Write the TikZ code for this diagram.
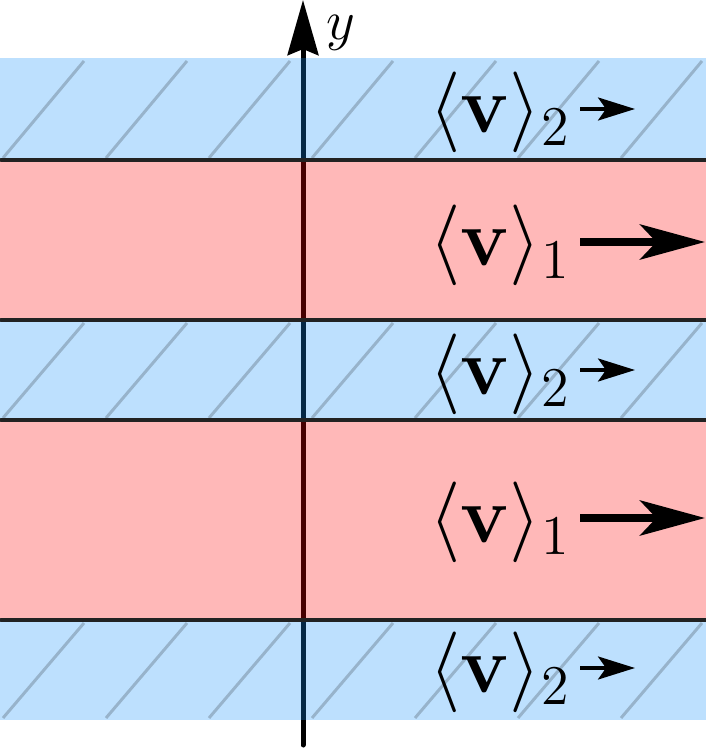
\documentclass[tikz,border=0pt]{standalone}
\usetikzlibrary{arrows.meta}
\definecolor{bandblue}{RGB}{19,144,251}
\definecolor{bandred}{RGB}{255,0,0}
\definecolor{sepcol}{RGB}{34,34,34}
\begin{document}
\begin{tikzpicture}[x=0.214pt,y=-0.214pt,
  bluefill/.style={fill=bandblue,fill opacity=0.28},
  redfill/.style={fill=bandred,fill opacity=0.28},
  hatchline/.style={draw=black,draw opacity=0.2,line width=0.64pt},
  sepline/.style={draw=sepcol,line width=0.78pt,line cap=round},
  axisline/.style={line width=1.07pt,line cap=round,-{Stealth[length=11.8pt,width=6.6pt,inset=1.3pt]}},
  lab/.style={font=\LARGE,inner sep=0pt,anchor=base east},
  ylabel/.style={font=\large,inner sep=0pt,anchor=base west},
  smallarr/.style={line width=0.86pt,-{Stealth[length=7.9pt,width=4.9pt,inset=1.7pt]}},
  bigarr/.style={line width=1.65pt,-{Stealth[length=13.9pt,width=7.5pt,inset=3.5pt]}}]
\useasboundingbox (0,0) rectangle (706,749);
% axis
\coordinate (abot) at (303,745);
\coordinate (atop) at (303,0);
\draw[axisline] (abot) -- (atop);
\node[ylabel] (ylab) at (326,40) {$y$};
% bands
\fill[bluefill] (0,58) rectangle (706,160);
\fill[redfill] (0,160) rectangle (706,320);
\fill[bluefill] (0,320) rectangle (706,420);
\fill[redfill] (0,420) rectangle (706,620);
\fill[bluefill] (0,620) rectangle (706,720);
% hatching
\foreach \t/\b in {58/160,320/420,620/720}{
  \foreach \x in {3,106,...,621}{
    \draw[hatchline] (\x,\b-2) -- (\x+81,\t+3);
  }
}
% separators
\foreach \yy in {160,320,420,620}{
  \draw[sepline] (1,\yy) -- (706,\yy);
}
% labels
\node[lab] (l1) at (572,133) {$\langle\mathbf{v}\rangle_2$};
\node[lab] (l2) at (572,266) {$\langle\mathbf{v}\rangle_1$};
\node[lab] (l3) at (572,394) {$\langle\mathbf{v}\rangle_2$};
\node[lab] (l4) at (572,542) {$\langle\mathbf{v}\rangle_1$};
\node[lab] (l5) at (572,692) {$\langle\mathbf{v}\rangle_2$};
% arrows
\coordinate (s1) at (580,109); \coordinate (e1) at (635,109);
\coordinate (s2) at (580,242); \coordinate (e2) at (705,242);
\coordinate (s3) at (580,370); \coordinate (e3) at (635,370);
\coordinate (s4) at (580,518); \coordinate (e4) at (705,518);
\coordinate (s5) at (580,668); \coordinate (e5) at (635,668);
\draw[smallarr] (s1) -- (e1);
\draw[bigarr] (s2) -- (e2);
\draw[smallarr] (s3) -- (e3);
\draw[bigarr] (s4) -- (e4);
\draw[smallarr] (s5) -- (e5);
\end{tikzpicture}
\end{document}
